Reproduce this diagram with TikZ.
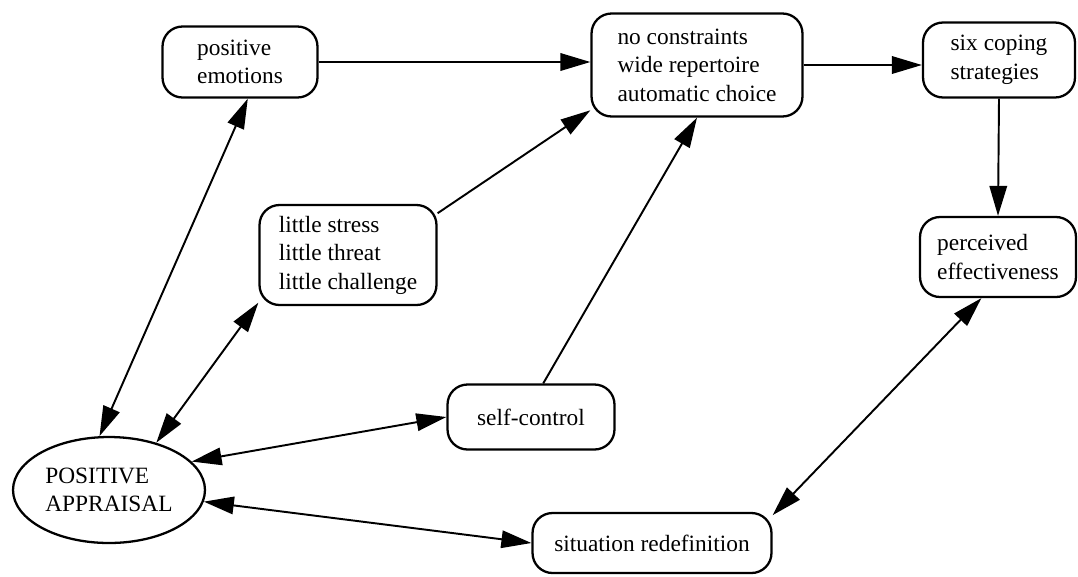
\documentclass[tikz,border=0pt]{standalone}
\usepackage{fontspec}
\setmainfont{Liberation Serif}
\usetikzlibrary{arrows.meta,shapes.geometric}

\begin{document}
\begin{tikzpicture}[x=0.02cm,y=-0.02cm,
box/.style={draw,rounded corners=0.4cm,line width=1.3pt,align=left,inner sep=0pt,font=\fontsize{13.3}{16.2}\selectfont},
oval/.style={draw,ellipse,line width=1.3pt,align=left,inner sep=0pt,font=\fontsize{13.3}{16.2}\selectfont},
link/.style={-{Triangle[length=6mm,width=3.5mm]},line width=1.1pt},
both/.style={{Triangle[length=6mm,width=3.5mm]}-{Triangle[length=6mm,width=3.5mm]},line width=1.1pt}]
\useasboundingbox (0,0) rectangle (1078,576);
\node[box,minimum width=3.1cm,minimum height=1.42cm] (pe) at (240,62) {positive\\emotions};
\node[box,minimum width=4.22cm,minimum height=2.06cm] (nc) at (697,65) {no constraints\\wide repertoire\\automatic choice};
\node[box,minimum width=3.04cm,minimum height=1.5cm] (six) at (999,60) {six coping\\strategies};
\node[box,minimum width=3.54cm,minimum height=2cm] (ls) at (348,255) {little stress\\little threat\\little challenge};
\node[box,minimum width=3.12cm,minimum height=1.6cm] (perc) at (998,257) {perceived\\effectiveness};
\node[box,minimum width=3.34cm,minimum height=1.3cm] (sc) at (531,417) {self-control};
\node[box,minimum width=4.78cm,minimum height=1.2cm] (sr) at (652,543) {situation redefinition};
\node[oval,minimum width=3.84cm,minimum height=2.12cm] (pa) at (109,490) {POSITIVE\\APPRAISAL};
% one-way links
\draw[link] (pe.east) -- (pe.east -| nc.west);
\draw[link] (nc.east) -- (nc.east -| six.west);
\draw[link] (six.south) -- (perc.north);
\draw[link] (ls.25) -- (nc.203);
\draw[link] (sc.70) -- (nc.south);
% two-way links
\draw[both] (pa.100) -- (pe.282);
\draw[both] (pa.45) -- (ls.208);
\draw[both] (pa.19) -- (sc.west);
\draw[both] (pa.-7) -- (sr.west);
\draw[both] (sr.13) -- (perc.248);
\end{tikzpicture}
\end{document}
